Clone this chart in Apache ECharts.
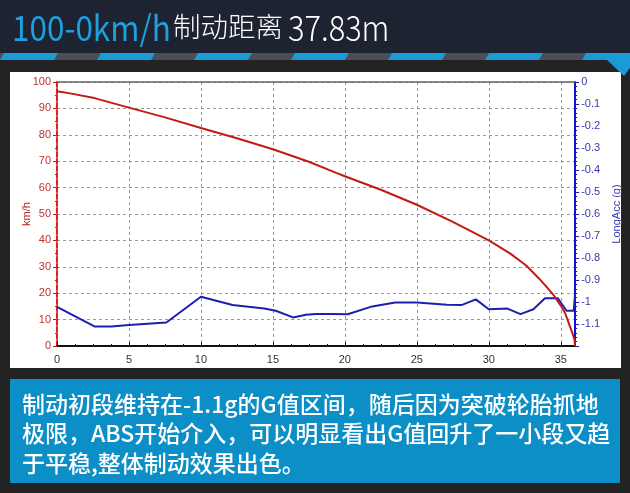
<!DOCTYPE html>
<html><head><meta charset="utf-8">
<script src="https://cdn.jsdelivr.net/npm/echarts@6/dist/echarts.min.js"></script>
<style>html,body{margin:0;padding:0;background:#232323}#c{width:630px;height:493px}</style>
</head><body><div id="c"></div>
<script>
// ---- data ----
const speedDist = [0, 1, 2.6, 5, 7.5, 10, 12.5, 15, 17.5, 19.4, 20, 22.5, 25, 27.5, 30, 31.5, 32.6, 33.5, 34, 34.5, 35, 35.3, 35.6, 35.8, 35.95, 36];
const speedKmh  = [96.5, 95.6, 93.9, 90.3, 86.6, 82.6, 78.7, 74.5, 69.8, 65.6, 64.3, 59.2, 53.5, 47, 40, 35, 30.5, 25.5, 22.5, 19.3, 15.3, 12.5, 8, 5, 2.5, 0];
const accDist = [0, 2.6, 3.8, 5, 7.6, 10, 12.2, 14.4, 15.2, 16.4, 17.3, 18.0, 19.2, 20.2, 21.9, 23.5, 25, 27.1, 28.1, 29.1, 30, 31.3, 32.2, 33.1, 33.9, 34.8, 35.4, 35.9, 36.0];
const accG    = [-1.022, -1.111, -1.111, -1.105, -1.093, -0.976, -1.014, -1.030, -1.040, -1.070, -1.058, -1.055, -1.055, -1.056, -1.020, -1.002, -1.002, -1.012, -1.014, -0.988, -1.033, -1.030, -1.055, -1.033, -0.983, -0.983, -1.040, -1.040, -0.960];
const titleBlue = '100-0km/h';
const titleCn = '制动距离';
const titleNum = '37.83m';
const leftAxisName = 'km/h';
const rightAxisName = 'LongAcc (g)';
const noteLines = [
  '制动初段维持在-1.1g的G值区间，随后因为突破轮胎抓地',
  '极限，ABS开始介入，可以明显看出G值回升了一小段又趋',
  '于平稳,整体制动效果出色。'
];

// ---- decoration ----
const graphic = [];
graphic.push({type:'rect', z:-20, shape:{x:0,y:0,width:630,height:53}, style:{fill:'#1d2330'}});
graphic.push({type:'rect', z:-20, shape:{x:0,y:53,width:630,height:7}, style:{fill:'#4a4e57'}});
for (let i = -1; i < 8; i++) {
  const x0 = i * 97;
  graphic.push({type:'polygon', z:-19, shape:{points:[[x0+4,53],[x0+58,53],[x0+54,60],[x0,60]]}, style:{fill:'#1a9ad6'}});
}
graphic.push({type:'polygon', z:-19, shape:{points:[[606,59],[630,59],[630,68],[624,76]]}, style:{fill:'#1a9ad6'}});
graphic.push({type:'rect', z:-20, shape:{x:10,y:72,width:611,height:296}, style:{fill:'#ffffff'}});
graphic.push({type:'rect', z:-20, shape:{x:10,y:379,width:610,height:104}, style:{fill:'#0b8fc6'}});
graphic.push({type:'text', z:10, x:12, y:28, scaleX:0.9, style:{text:titleBlue, fill:'#1ea0de', font:'400 35px "Noto Sans CJK SC"', verticalAlign:'middle'}});
graphic.push({type:'text', z:10, x:173, y:27, style:{text:titleCn, fill:'#ffffff', font:'300 27.5px "Noto Sans CJK SC"', verticalAlign:'middle'}});
graphic.push({type:'text', z:10, x:288, y:28, scaleX:0.88, style:{text:titleNum, fill:'#ffffff', font:'300 35px "Noto Sans CJK SC"', verticalAlign:'middle'}});
noteLines.forEach((t, i) => {
  graphic.push({type:'text', z:10, x:22, y:404 + i * 29.5, style:{text:t, fill:'#ffffff', font:'500 23px "Noto Sans CJK SC"', verticalAlign:'middle'}});
});

const red = '#c41a16', blue = '#1e1eb0';
const chart = echarts.init(document.getElementById('c'), null, {renderer:'canvas', width:630, height:493});
chart.setOption({
  backgroundColor: '#232323',
  animation: false,
  graphic: graphic,
  grid: {left:57, right:47, top:82, bottom:147},
  xAxis: [{
    type:'value', min:0, max:36, interval:5,
    axisLine:{onZero:false, lineStyle:{color:'#111', width:2}},
    axisTick:{inside:true, length:4, lineStyle:{color:'#111'}},
    minorTick:{show:true, splitNumber:4, length:2, lineStyle:{color:'#111'}},
    axisLabel:{color:'#333', fontSize:11, fontFamily:'Liberation Sans', margin:8, showMaxLabel:false},
    splitLine:{show:true, lineStyle:{color:'#999', type:[3,3]}}
  }, {
    type:'value', position:'top', min:0, max:36, interval:5,
    axisLine:{show:true, onZero:false, lineStyle:{color:'#666', width:1.5}},
    axisTick:{show:false}, axisLabel:{show:false}, splitLine:{show:false}
  }],
  yAxis: [{
    type:'value', min:0, max:100, interval:10,
    name:leftAxisName, nameLocation:'middle', nameGap:25, nameRotate:90, nameMoveOverlap:false,
    nameTextStyle:{color:red, fontSize:11, fontFamily:'Liberation Sans'},
    axisLine:{show:true, onZero:false, lineStyle:{color:'#e02020', width:2, type:[5,2]}},
    axisTick:{show:true, length:4, lineStyle:{color:red}},
    minorTick:{show:true, splitNumber:2, length:2, lineStyle:{color:red}},
    axisLabel:{color:'#c03030', fontSize:11, fontFamily:'Liberation Sans', margin:6},
    splitLine:{show:true, lineStyle:{color:'#999', type:[3,3]}}
  }, {
    type:'value', position:'right', min:-1.2, max:0, interval:0.1,
    name:rightAxisName, nameLocation:'middle', nameGap:31, nameRotate:90,
    nameTextStyle:{color:'#3a3ab0', fontSize:11, fontFamily:'Liberation Sans'},
    axisLine:{show:true, onZero:false, lineStyle:{color:'#1010d0', width:2}},
    axisTick:{show:true, length:4, lineStyle:{color:blue}},
    minorTick:{show:true, splitNumber:5, length:2, lineStyle:{color:blue}},
    axisLabel:{color:'#3838a8', fontSize:11, fontFamily:'Liberation Sans', margin:6, showMinLabel:false},
    splitLine:{show:false}
  }],
  series: [{
    type:'line', xAxisIndex:0, yAxisIndex:1, symbol:'none', z:3,
    data: accDist.map((d, i) => [d, accG[i]]),
    lineStyle:{color:blue, width:2}
  }, {
    type:'line', xAxisIndex:0, yAxisIndex:0, symbol:'none', z:4,
    data: speedDist.map((d, i) => [d, speedKmh[i]]),
    lineStyle:{color:red, width:2}
  }]
});
</script></body></html>
